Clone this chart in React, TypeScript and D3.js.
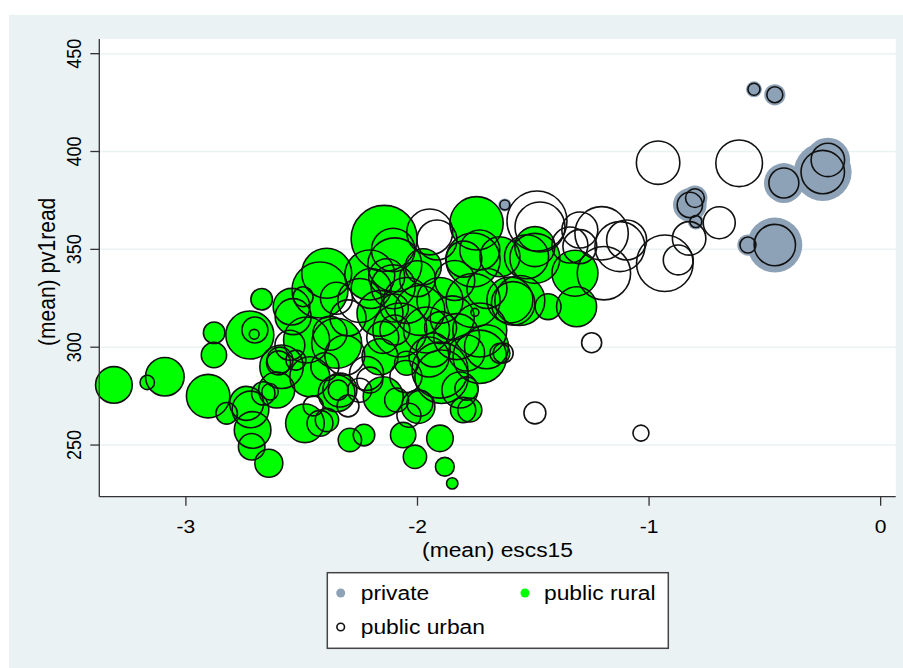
import React from 'react'
import * as d3 from 'd3'

// [mean escs15, mean pv1read, students]
const privateSchools: [number, number, number][] = [
  [-0.547, 431.8, 9], [-0.457, 429.0, 16], [-0.25, 389.5, 118], [-0.228, 395.7, 70],
  [-0.418, 383.9, 56], [-0.824, 372.7, 40], [-0.802, 376.2, 22], [-0.798, 364.2, 9],
  [-0.457, 352.2, 107], [-0.573, 352.2, 16], [-1.623, 372.7, 6],
]

const ruralSchools: [number, number, number][] = [
  [-3.311, 280.7, 84], [-3.091, 284.9, 93], [-3.167, 282.0, 13], [-2.904, 275.0, 118],
  [-2.878, 307.4, 29], [-2.879, 296.0, 40], [-2.824, 266.2, 29], [-2.721, 268.2, 84],
  [-2.712, 257.7, 84], [-2.716, 249.1, 44], [-2.642, 240.7, 49], [-2.724, 306.2, 144],
  [-2.702, 308.8, 42], [-2.705, 306.6, 6], [-2.673, 324.5, 29], [-2.666, 276.4, 34],
  [-2.637, 277.2, 17], [-2.587, 290.0, 118], [-2.594, 293.4, 42], [-2.544, 320.7, 84],
  [-2.494, 325.8, 25], [-2.392, 337.8, 156], [-2.421, 329.2, 196], [-2.486, 261.1, 93],
  [-2.421, 261.1, 42], [-2.391, 262.8, 34], [-2.349, 276.4, 84], [-2.342, 278.1, 25],
  [-2.292, 252.6, 34], [-2.231, 255.1, 29], [-2.144, 355.6, 272], [-2.105, 349.7, 118],
  [-2.062, 255.1, 40], [-2.011, 244.0, 34], [-1.903, 253.4, 44], [-1.882, 238.9, 22],
  [-1.85, 230.4, 8], [-1.745, 363.3, 178], [-1.731, 349.7, 100], [-1.587, 322.4, 118],
  [-1.493, 351.4, 100], [-1.493, 345.4, 156], [-1.32, 337.8, 132], [-1.313, 320.7, 100],
  [-1.436, 320.7, 42], [-1.601, 324.1, 132], [-1.803, 267.9, 40], [-1.788, 278.9, 34],
  [-1.896, 284.9, 178], [-1.997, 269.6, 70], [-1.731, 295.1, 178], [-1.644, 296.9, 25],
  [-1.529, 346.2, 121], [-1.558, 323.9, 156], [-1.76, 323.9, 182], [-1.76, 344.6, 182],
  [-1.644, 346.2, 100], [-1.903, 323.9, 132], [-2.047, 323.9, 132], [-2.162, 317.3, 132],
  [-2.076, 308.8, 182], [-1.961, 308.8, 132], [-1.831, 305.4, 132], [-1.731, 308.8, 182],
  [-1.702, 300.2, 121], [-1.932, 298.6, 72], [-1.903, 288.3, 196], [-1.788, 297.0, 81],
  [-2.047, 291.8, 36], [-2.162, 295.1, 81], [-2.335, 278.1, 72], [-2.465, 284.9, 100],
  [-2.608, 278.1, 81], [-2.738, 271.3, 72], [-2.148, 274.7, 100], [-2.09, 273.0, 36],
  [-1.99, 271.3, 42], [-1.817, 278.1, 81], [-1.774, 267.9, 36], [-2.206, 336.9, 156],
  [-2.133, 336.0, 81], [-2.105, 330.9, 121], [-1.975, 341.1, 81], [-2.479, 303.7, 132],
  [-2.378, 307.1, 72], [-2.349, 302.0, 156], [-2.537, 315.6, 81],
]

const urbanSchools: [number, number, number][] = [
  [-0.961, 394.3, 118], [-0.611, 394.0, 136], [-0.697, 363.6, 64], [-0.827, 355.6, 70],
  [-0.932, 342.9, 200], [-0.874, 344.6, 56], [-1.248, 302.3, 25], [-1.195, 337.8, 178],
  [-1.126, 351.4, 156], [-1.097, 354.8, 100], [-1.205, 358.2, 178], [-1.484, 364.5, 225],
  [-1.471, 361.4, 156], [-1.299, 351.4, 72], [-1.342, 352.2, 81], [-1.299, 359.9, 81],
  [-1.493, 266.4, 30], [-1.035, 256.1, 16], [-1.916, 354.8, 100], [-1.947, 358.9, 132],
  [-2.206, 283.2, 42], [-2.22, 286.6, 72], [-1.63, 297.0, 25], [-1.752, 317.8, 4],
  [-2.098, 342.1, 182], [-2.249, 323.9, 121], [-1.99, 318.8, 156], [-2.314, 295.9, 100],
  [-2.551, 301.0, 56], [-2.525, 293.4, 25], [-1.839, 334.1, 100], [-2.098, 308.8, 56],
  [-2.037, 265.2, 36], [-2.2, 330.0, 100], [-2.0, 335.0, 81], [-1.85, 315.0, 121],
  [-2.15, 305.0, 64], [-2.3, 315.0, 81], [-1.95, 295.0, 100], [-2.05, 285.0, 64],
  [-2.4, 290.0, 49], [-2.6, 292.0, 36], [-1.7, 330.0, 100], [-1.8, 345.0, 81],
  [-2.25, 278.0, 36], [-2.45, 270.0, 25], [-2.3, 270.0, 30], [-2.1, 320.0, 49],
  [-1.9, 310.0, 64], [-2.35, 325.0, 64],
]

const xTicks = [-3, -2, -1, 0]
const yTicks = [250, 300, 350, 400, 450]
const legendItems = ['private', 'public rural', 'public urban']

const W = 903
const H = 668
const plot = { left: 99.3, right: 895.7, top: 39, bottom: 496.7 }
const font = '"Liberation Sans", Arial, sans-serif'
const sx = 1.17

export default function App() {
  const x = d3.scaleLinear().domain([-3.374, 0.065]).range([plot.left, plot.right])
  const y = d3.scaleLinear().domain([223.6, 457.5]).range([plot.bottom, plot.top])
  const r = d3.scaleSqrt().domain([0, 400]).range([0, 40])

  const ring = (d: [number, number, number], i: number, key: string) => (
    <circle key={key + i} cx={x(d[0])} cy={y(d[1])} r={r(d[2])} fill="none" stroke="#111" strokeWidth={1.6} />
  )

  return (
    <svg width={W} height={H} style={{ position: 'absolute', left: 0, top: 0 }} fontFamily={font}>
      <rect width={W} height={H} fill="#fff" />
      <rect x={9} y={15} width={W - 9} height={H - 15} fill="#eaf2f3" />
      <rect x={plot.left} y={plot.top} width={plot.right - plot.left} height={plot.bottom - plot.top} fill="#fff" />

      {yTicks.map(t => (
        <line key={'g' + t} x1={plot.left} x2={plot.right} y1={y(t)} y2={y(t)} stroke="#eaf2f3" strokeWidth={1.5} />
      ))}

      {privateSchools.map((d, i) => (
        <circle key={'pf' + i} cx={x(d[0])} cy={y(d[1])} r={r(d[2]) * 1.33} fill="#8ea2b7" />
      ))}
      {ruralSchools.map((d, i) => (
        <circle key={'rf' + i} cx={x(d[0])} cy={y(d[1])} r={r(d[2])} fill="#00ff00" />
      ))}
      {privateSchools.map((d, i) => ring(d, i, 'pr'))}
      {ruralSchools.map((d, i) => ring(d, i, 'rr'))}
      {urbanSchools.map((d, i) => ring(d, i, 'ur'))}

      {/* axes */}
      <line x1={plot.left} x2={plot.left} y1={plot.top} y2={plot.bottom} stroke="#333" strokeWidth={1.3} />
      <line x1={plot.left} x2={plot.right} y1={plot.bottom} y2={plot.bottom} stroke="#333" strokeWidth={1.3} />
      {yTicks.map(t => (
        <g key={'yt' + t}>
          <line x1={plot.left - 9} x2={plot.left} y1={y(t)} y2={y(t)} stroke="#333" strokeWidth={1.3} />
          <text transform={`translate(80.5,${y(t)}) scale(${sx},1) rotate(-90)`} textAnchor="middle" fontSize={18}>{t}</text>
        </g>
      ))}
      {xTicks.map(t => (
        <g key={'xt' + t}>
          <line x1={x(t)} x2={x(t)} y1={plot.bottom} y2={plot.bottom + 9} stroke="#333" strokeWidth={1.3} />
          <text transform={`translate(${x(t)},533) scale(${sx},1)`} textAnchor="middle" fontSize={18}>{t}</text>
        </g>
      ))}
      <text transform={`translate(${(plot.left + plot.right) / 2},557) scale(${sx},1)`} textAnchor="middle" fontSize={19.5}>(mean) escs15</text>
      <text transform={`translate(55,${(plot.top + plot.bottom) / 2 + 4}) scale(${sx},1) rotate(-90)`} textAnchor="middle" fontSize={21}>(mean) pv1read</text>

      {/* legend */}
      <rect x={327.3} y={572.7} width={341} height={75.6} fill="#fff" stroke="#444" strokeWidth={1.5} />
      <circle cx={340.7} cy={593} r={4.5} fill="#8ea2b7" />
      <text transform={`translate(360.7,600) scale(${sx},1)`} fontSize={19.5}>{legendItems[0]}</text>
      <circle cx={525} cy={593} r={4.5} fill="#00ff00" />
      <text transform={`translate(544,600) scale(${sx},1)`} fontSize={19.5}>{legendItems[1]}</text>
      <circle cx={340.7} cy={627} r={3.8} fill="none" stroke="#111" strokeWidth={1.6} />
      <text transform={`translate(360.7,634) scale(${sx},1)`} fontSize={19.5}>{legendItems[2]}</text>
    </svg>
  )
}
